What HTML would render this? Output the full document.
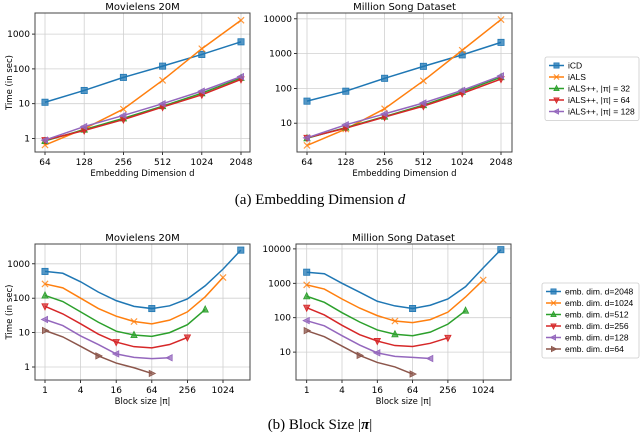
<!DOCTYPE html>
<html><head><meta charset="utf-8">
<style>
body{margin:0;background:#fff;width:640px;height:435px;overflow:hidden}
svg{display:block}
text{font-family:"DejaVu Sans","Liberation Sans",sans-serif;fill:#000}
.cap{font-family:"Liberation Serif",serif;font-size:15px}
.lg{font-family:"Liberation Sans",sans-serif}
</style></head>
<body>
<svg id="fig" width="640" height="435" xmlns="http://www.w3.org/2000/svg">
<text class="cap" x="320" y="204" text-anchor="middle">(a) Embedding Dimension <tspan font-style="italic">d</tspan></text>
<text class="cap" x="320" y="429" text-anchor="middle">(b) Block Size |<tspan font-weight="bold" font-style="italic">π</tspan>|</text>
</svg>
<script>
// ---- data ----
const dimCats = [64,128,256,512,1024,2048];
const dimTickLabels = ["64","128","256","512","1024","2048"];
const mlICD = [11,24,57,120,260,600];
const mlIALS = [0.65,1.9,7,47,380,2500];
const mlPP32 = [0.85,1.8,3.8,8.5,20,55];
const mlPP64 = [0.9,1.7,3.5,8,18,50];
const mlPP128 = [0.9,2.2,4.6,10,23,60];
const msICD = [43,83,195,430,920,2100];
const msIALS = [2.3,6.8,26,165,1250,9500];
const msPP32 = [3.7,7.5,15.5,33,80,210];
const msPP64 = [3.8,7.2,15,31,72,185];
const msPP128 = [3.8,9,18.5,38,88,230];
const blockCats = [1,2,4,8,16,32,64,128,256,512,1024,2048];
const blockTickVals = [1,4,16,64,256,1024];
const blockTickLabels = ["1","4","16","64","256","1024"];
const mlD2048 = [600,530,300,150,85,58,50,60,95,230,700,2500];
const mlD1024 = [260,200,100,50,30,21,18,23,40,110,400];
const mlD512 = [120,80,40,20,11,8.5,7.8,10,17,47];
const mlD256 = [58,35,18,9,5.3,3.9,3.6,4.5,7.2];
const mlD128 = [24,16,8,4.5,2.4,1.9,1.75,1.85];
const mlD64 = [11.5,7.5,4,2.1,1.3,0.95,0.65];
const msD2048 = [2100,1900,1000,550,300,220,185,230,350,800,2800,9500];
const msD1024 = [900,680,350,190,115,80,72,88,145,400,1250];
const msD512 = [420,280,140,75,44,33,30,38,65,160];
const msD256 = [195,120,60,32,21,15.5,14.5,18,26];
const msD128 = [82,58,30,16,9.5,7.5,7,6.5];
const msD64 = [42,28,15,8,5,3.7,2.3];
const legendA = ["iCD","iALS","iALS++, |π| = 32","iALS++, |π| = 64","iALS++, |π| = 128"];
const legendB = ["emb. dim. d=2048","emb. dim. d=1024","emb. dim. d=512","emb. dim. d=256","emb. dim. d=128","emb. dim. d=64"];

const COLORS=["#1f77b4","#ff7f0e","#2ca02c","#d62728","#9467bd","#8c564b"];
const MK=["s","x","^","v","<",">"];
const NS="http://www.w3.org/2000/svg";
const svg=document.getElementById('fig');
function el(t,a,p){const e=document.createElementNS(NS,t);for(const k in a)e.setAttribute(k,a[k]);(p||svg).appendChild(e);return e;}

function marker(g,type,x,y,c,r){
  r=r||3.1;let e;
  if(type==="s") e=el('rect',{x:x-r,y:y-r,width:2*r,height:2*r,fill:c,'fill-opacity':0.75,stroke:c,'stroke-width':0.8},g);
  else if(type==="x") e=el('path',{d:`M${x-r} ${y-r}L${x+r} ${y+r}M${x-r} ${y+r}L${x+r} ${y-r}`,stroke:c,'stroke-width':1.2,'stroke-opacity':0.8},g);
  else{let p;
    if(type==="^")p=[[x,y-r-0.5],[x+r,y+r-0.5],[x-r,y+r-0.5]];
    if(type==="v")p=[[x,y+r+0.5],[x+r,y-r+0.5],[x-r,y-r+0.5]];
    if(type==="<")p=[[x-r-0.5,y],[x+r-0.5,y-r],[x+r-0.5,y+r]];
    if(type===">")p=[[x+r+0.5,y],[x-r+0.5,y-r],[x-r+0.5,y+r]];
    e=el('polygon',{points:p.map(q=>q.join(',')).join(' '),fill:c,'fill-opacity':0.75,stroke:c,'stroke-width':0.8},g);}
  return e;
}

function plot(cfg){
  const g=el('g',{});
  
  
  const {L,R,T,B}=cfg;
  const xs=v=>cfg.x0+(Math.log2(v)-Math.log2(cfg.xmin))*cfg.xstep;
  const ys=v=>cfg.y1+(0-Math.log10(v))*cfg.dec;
  cfg.xticks.forEach((v,i)=>{
    const x=xs(v);
    const gl=el('line',{x1:x,x2:x,y1:T,y2:B,stroke:'#d0d0d0','stroke-width':0.8},g);
    
    el('line',{x1:x,x2:x,y1:B,y2:B+3,stroke:'#000','stroke-width':0.8},g);
    const t=el('text',{x:x,y:B+13,'font-size':9,'text-anchor':'middle'},g);t.textContent=cfg.xlabels[i];
    
  });
  cfg.yticks.forEach(v=>{
    const y=ys(v);
    const gl=el('line',{x1:L,x2:R,y1:y,y2:y,stroke:'#d0d0d0','stroke-width':0.8},g);
    
    el('line',{x1:L-3,x2:L,y1:y,y2:y,stroke:'#000','stroke-width':0.8},g);
    const t=el('text',{x:L-5,y:y+3,'font-size':9,'text-anchor':'end'},g);t.textContent=String(v);
    
  });
  cfg.series.forEach((s,si)=>{
    const sg=el('g',{},g);
    
    
    const pts=s.map((v,i)=>[xs(cfg.cats[i]),ys(v)]);
    el('polyline',{points:pts.map(p=>p.join(',')).join(' '),fill:'none',stroke:COLORS[si],'stroke-width':1.5},sg);
    pts.forEach((p,i)=>{
      if(cfg.mark && !cfg.mark[si].includes(i)) return;
      const m=marker(sg,MK[si],p[0],p[1],COLORS[si]);
      
      
    });
  });
  const fr=el('rect',{x:L,y:T,width:R-L,height:B-T,fill:'none',stroke:'#444','stroke-width':1},g);
  
  const tt=el('text',{x:(L+R)/2,y:T-3,'font-size':10,'text-anchor':'middle'},g);tt.textContent=cfg.title;
  
  const xl=el('text',{x:(L+R)/2,y:B+24,'font-size':8.5,'text-anchor':'middle'},g);xl.textContent=cfg.xtitle;
  
  if(cfg.ytitle){
    const yl=el('text',{x:0,y:0,'font-size':8.5,'text-anchor':'middle',transform:`translate(12,${(T+B)/2}) rotate(-90)`},g);yl.textContent=cfg.ytitle;
    
  }
}

function legend(x,y,w,labels,name,tx){
  const g=el('g',{});
  
  
  const h=labels.length*11.5+6;
  el('rect',{x:x,y:y,width:w,height:h,fill:'#fff',stroke:'#ccc','stroke-width':0.8,rx:2},g);
  labels.forEach((lb,i)=>{
    const cy=y+8.5+i*11.5;
    const eg=el('g',{},g);
    
    
    el('line',{x1:x+4,x2:x+19,y1:cy,y2:cy,stroke:COLORS[i],'stroke-width':1.5},eg);
    marker(eg,MK[i],x+11.5,cy,COLORS[i],2.6);
    const t=el('text',{x:x+tx,y:cy+3,'font-size':8.5,'class':'lg'},eg);t.textContent=lb;
  });
}

plot({name:'chart-ml-dim',L:35,R:250,T:13,B:152,x0:45,xmin:64,xstep:39.2,y1:138.5,dec:34.8,
 cats:dimCats,xticks:dimCats,xlabels:dimTickLabels,yticks:[1,10,100,1000],
 series:[mlICD,mlIALS,mlPP32,mlPP64,mlPP128],title:'Movielens 20M',xtitle:'Embedding Dimension d',ytitle:'Time (in sec)'});
plot({name:'chart-msd-dim',L:297,R:512,T:13,B:152,x0:307,xmin:64,xstep:38.8,y1:158,dec:34.8,
 cats:dimCats,xticks:dimCats,xlabels:dimTickLabels,yticks:[10,100,1000,10000],
 series:[msICD,msIALS,msPP32,msPP64,msPP128],title:'Million Song Dataset',xtitle:'Embedding Dimension d'});
const markIdx=[[0,6,11],[0,5,10],[0,5,9],[0,4,8],[0,4,7],[0,3,6]];
plot({name:'chart-ml-block',L:35,R:250,T:244,B:380,x0:45,xmin:1,xstep:17.8,y1:367,dec:34.4,
 cats:blockCats,xticks:blockTickVals,xlabels:blockTickLabels,yticks:[1,10,100,1000],mark:markIdx,
 series:[mlD2048,mlD1024,mlD512,mlD256,mlD128,mlD64],title:'Movielens 20M',xtitle:'Block size |π|',ytitle:'Time (in sec)'});
plot({name:'chart-msd-block',L:296,R:511,T:244,B:380,x0:306.7,xmin:1,xstep:17.65,y1:386.5,dec:34.4,
 cats:blockCats,xticks:blockTickVals,xlabels:blockTickLabels,yticks:[10,100,1000,10000],mark:markIdx,
 series:[msD2048,msD1024,msD512,msD256,msD128,msD64],title:'Million Song Dataset',xtitle:'Block size |π|'});
legend(545,57,94,legendA,'legend-dim',23);
legend(542,283,97,legendB,'legend-block',23);
</script>
</body></html>
